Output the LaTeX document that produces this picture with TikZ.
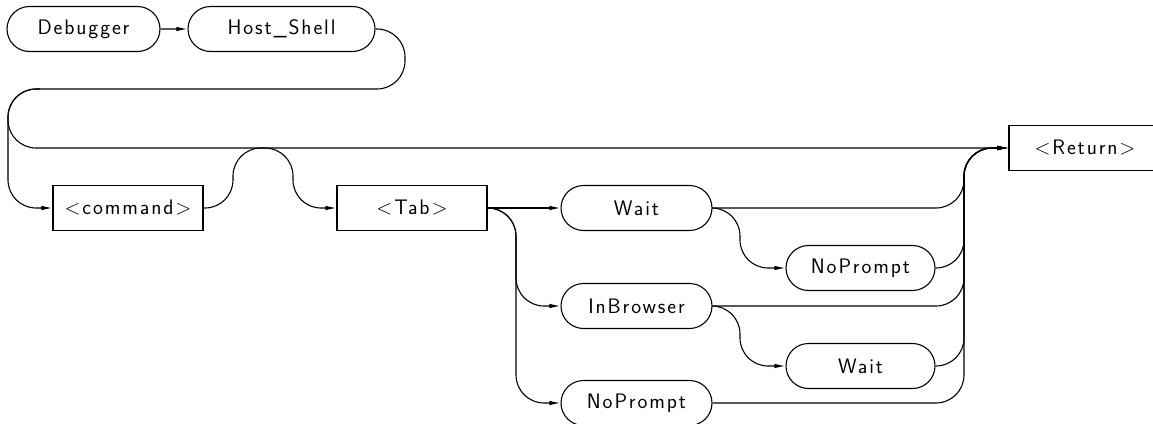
\documentclass[tikz,border=0pt]{standalone}
\usepackage{fontspec}
\newfontfamily\cadfont{Latin Modern Sans}[LetterSpace=9]
\usetikzlibrary{arrows.meta,shapes.misc}
\tikzset{
  lbl/.style={font=\cadfont\fontsize{21}{21}\selectfont},
  term/.style={draw, rounded rectangle, minimum width=151pt, minimum height=45pt, inner sep=0pt, lbl},
  nonterm/.style={draw, rectangle, minimum width=150pt, minimum height=45pt, inner sep=0pt, lbl},
  conn/.style={rounded corners=28pt},
  arr/.style={-{Latex[length=11pt,width=4.5pt]}}
}
\begin{document}
\begin{tikzpicture}[x=1pt,y=-1pt,line width=1.1pt]
\useasboundingbox (0,0) rectangle (1153,423);
% nodes
\node[term, minimum width=153pt] (dbg) at (83.5,29) {Debugger};
\node[term, minimum width=187pt] (host) at (281.5,29) {Host\_Shell};
\node[nonterm] (cmd) at (128,208) {<command>};
\node[nonterm] (tab) at (412,208) {<Tab>};
\node[term] (wait) at (636.5,208) {Wait};
\node[term] (inb) at (636.5,306) {InBrowser};
\node[term] (nop) at (636.5,403) {NoPrompt};
\node[term, minimum width=149pt] (nop2) at (860.5,268) {NoPrompt};
\node[term, minimum width=149pt] (wait2) at (860.5,366) {Wait};
\node[nonterm, minimum width=152pt] (ret) at (1085,148) {<Return>};
% rail points
\coordinate (hr) at (405,29);
\coordinate (hb) at (405,89);
\coordinate (lt) at (8,89);
\coordinate (lb) at (8,208);
\coordinate (lm) at (8,148);
\coordinate (ls) at (40,89);
\coordinate (b1) at (233,208);
\coordinate (b2) at (233,148);
\coordinate (b3) at (293,148);
\coordinate (b4) at (293,208);
\coordinate (t1) at (516,208);
\coordinate (w1) at (740,208);
\coordinate (r1) at (964,148);
% connectors
\draw[arr] (dbg) -- (host);
\draw[arr, conn] (host.east) -- (hr) -- (hb) -- (lt) -- (lb) -- (cmd.west);
\draw[arr, conn] (ls) -- (lt) -- (lm) -- (ret.west);
\draw[arr, conn] (cmd.east) -- (b1) -- (b2) -- (b3) -- (b4) -- (tab.west);
\draw[arr] (tab.east) -- (wait.west);
\draw[arr, conn] (tab.east) -- (t1) -- (t1 |- inb.west) -- (inb.west);
\draw[arr, conn] (tab.east) -- (t1) -- (t1 |- nop.west) -- (nop.west);
\draw[arr, conn] (wait.east) -- (w1) -- (w1 |- nop2.west) -- (nop2.west);
\draw[arr, conn] (inb.east) -- (w1 |- inb.east) -- (w1 |- wait2.west) -- (wait2.west);
\foreach \n in {wait,nop2,inb,wait2,nop}
  \draw[arr, conn] (\n.east) -- (r1 |- \n.east) -- (r1) -- (ret.west);
\end{tikzpicture}
\end{document}
